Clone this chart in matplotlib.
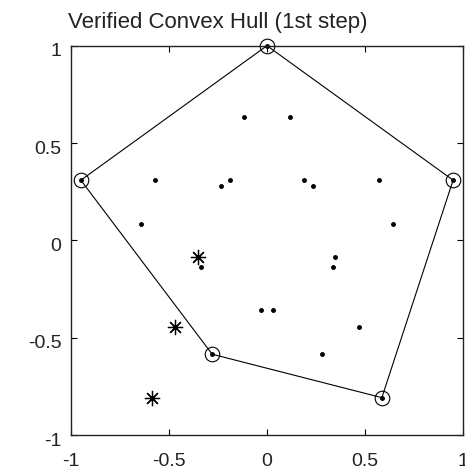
import numpy as np
import matplotlib.pyplot as plt
import matplotlib.transforms as mtransforms

plt.rcParams['font.family'] = ['Liberation Sans', 'DejaVu Sans']

# puntos interiores / todos los puntos
pts_x = [0.0, -0.117, 0.117, -0.951, -0.571, -0.19, -0.235, 0.19, 0.235, 0.571,
         0.951, -0.644, 0.644, -0.335, 0.335, 0.35, -0.029, 0.029, 0.469,
         -0.28, 0.279, 0.587]
pts_y = [1.0, 0.636, 0.636, 0.309, 0.309, 0.309, 0.277, 0.309, 0.277, 0.309,
         0.309, 0.086, 0.086, -0.138, -0.138, -0.085, -0.359, -0.359, -0.446,
         -0.585, -0.585, -0.808]

# vertices del casco convexo verificado
hull_x = [0.0, 0.951, 0.587, -0.28, -0.951, 0.0]
hull_y = [1.0, 0.309, -0.808, -0.585, 0.309, 1.0]

# puntos descartados (asteriscos)
star_x = [-0.352, -0.471, -0.588]
star_y = [-0.085, -0.446, -0.808]

ticks = [-1, -0.5, 0, 0.5, 1]
tick_labels = ['-1', '-0.5', '0', '0.5', '1']

fig = plt.figure(figsize=(4.65, 4.71), dpi=100)
ax = fig.add_axes([0.1533, 0.0764, 0.8417, 0.8266])

ax.plot(hull_x, hull_y, 'k-', lw=0.8)
ax.plot(hull_x[:-1], hull_y[:-1], 'o', mfc='none', mec='k', ms=10.5, mew=0.8,
        clip_on=False)
ax.plot(pts_x, pts_y, 'k.', ms=5, clip_on=False)
ax.plot(star_x, star_y, 'k', ls='none', marker=(8, 2, 0), ms=11, mew=0.9)

ax.set_xlim(-1, 1)
ax.set_ylim(-1, 1)
ax.set_xticks(ticks)
ax.set_xticklabels(tick_labels)
ax.set_yticks(ticks)
ax.set_yticklabels(tick_labels)
ax.tick_params(direction='in', top=True, right=True, length=4, width=0.8,
               labelsize=14, colors='k', labelcolor='#222222')
ax.tick_params(axis='x', pad=13)
ax.tick_params(axis='y', pad=7)
for s in ax.spines.values():
    s.set_linewidth(1.0)
    s.set_color('#222222')

# etiquetas y un poco desplazadas hacia abajo
off = mtransforms.ScaledTranslation(0, -3 / 72, fig.dpi_scale_trans)
for lab in ax.get_yticklabels():
    lab.set_transform(lab.get_transform() + off)

fig.text(68 / 465, 1 - 28 / 471, 'Verified Convex Hull (1st step)',
         fontsize=16, ha='left', va='baseline', color='#222222')

fig.savefig('out.png', dpi=100)
